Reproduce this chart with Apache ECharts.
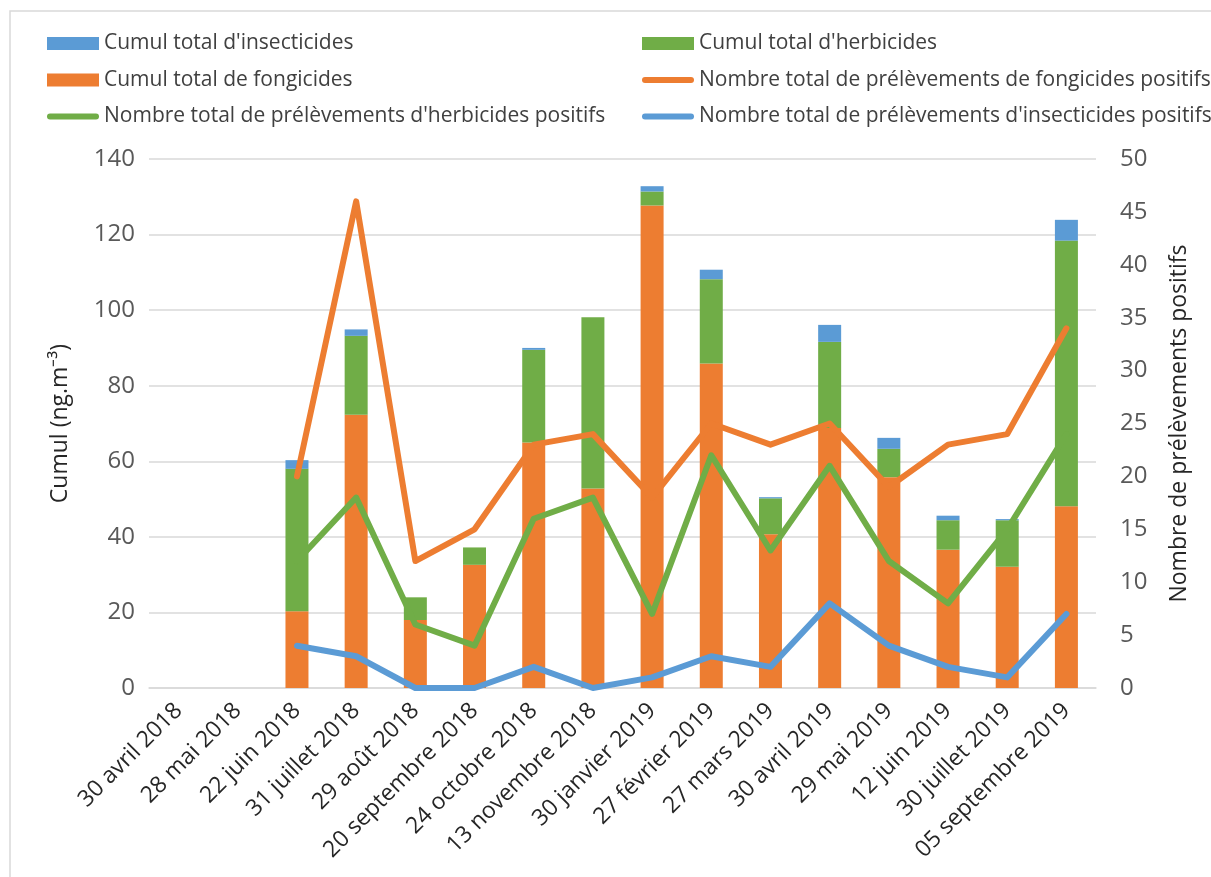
<!DOCTYPE html>
<html>
<head>
<meta charset="utf-8">
<script src="https://cdn.jsdelivr.net/npm/echarts@6/dist/echarts.min.js"></script>
<style>
html,body{margin:0;padding:0;background:#fff;}
#chart{width:1211px;height:877px;}
</style>
</head>
<body>
<div id="chart"></div>
<script>
const categories = ['30 avril 2018','28 mai 2018','22 juin 2018','31 juillet 2018','29 août 2018','20 septembre 2018','24 octobre 2018','13 novembre 2018','30 janvier 2019','27 février 2019','27 mars 2019','30 avril 2019','29 mai 2019','12 juin 2019','30 juillet 2019','05 septembre 2019'];
const cumulFongicides = [null,null,20.3,72.3,18.0,32.6,65.0,52.8,127.7,85.9,40.7,68.8,55.8,36.6,32.1,48.1];
const cumulHerbicides = [null,null,37.7,20.9,6.0,4.6,24.5,45.3,3.7,22.3,9.5,22.8,7.5,7.8,12.3,70.3];
const cumulInsecticides = [null,null,2.3,1.7,0,0,0.5,0,1.4,2.5,0.3,4.5,2.9,1.2,0.3,5.5];
const posFongicides = [null,null,20,46,12,15,23,24,18,25,23,25,19,23,24,34];
const posHerbicides = [null,null,12,18,6,4,16,18,7,22,13,21,12,8,15,24];
const posInsecticides = [null,null,4,3,0,0,2,0,1,3,2,8,4,2,1,7];
const leftTicks = {min:0, max:140, interval:20};
const rightTicks = {min:0, max:50, interval:5};

const N = {
  ins: "Cumul total d'insecticides",
  herb: "Cumul total d'herbicides",
  fong: "Cumul total de fongicides",
  pf: "Nombre total de prélèvements de fongicides positifs",
  ph: "Nombre total de prélèvements d'herbicides positifs",
  pi: "Nombre total de prélèvements d'insecticides positifs"
};
const C = {blue:'#5B9BD5', green:'#70AD47', orange:'#ED7D31'};
const FONT = '"Open Sans", sans-serif';
const LINE_ICON = 'path://M3,0 L49,0 A3,3 0 0 1 49,6 L3,6 A3,3 0 0 1 3,0 Z';

const chart = echarts.init(document.getElementById('chart'), null, {renderer:'canvas'});
const legendCommon = {
  orient:'vertical', itemWidth:52, itemHeight:13, itemGap:15.5,
  textStyle:{fontFamily:FONT, fontSize:21, color:'#404040'},
  selectedMode:false
};
const lineSeries = (name, data, color) => ({
  name, type:'line', yAxisIndex:1, data, symbol:'none', showSymbol:false,
  lineStyle:{width:6, color, cap:'round', join:'round'}, itemStyle:{color}, z:5
});
chart.setOption({
  animation:false,
  backgroundColor:'#fff',
  graphic:[{type:'rect', shape:{x:10, y:11, width:1400, height:1000}, style:{fill:'none', stroke:'#d9d9d9', lineWidth:1.5}, silent:true}],
  legend:[
    Object.assign({left:42, top:28, data:[{name:N.ins, icon:'rect'},{name:N.fong, icon:'rect'},{name:N.ph, icon:LINE_ICON}]}, legendCommon),
    Object.assign({left:637, top:28, data:[{name:N.herb, icon:'rect'},{name:N.pf, icon:LINE_ICON},{name:N.pi, icon:LINE_ICON}]}, legendCommon)
  ],
  grid:{left:149, right:115, top:159, bottom:189, containLabel:false},
  xAxis:{
    type:'category', data:categories, boundaryGap:true,
    axisLine:{lineStyle:{color:'#d9d9d9', width:1.5}},
    axisTick:{show:false},
    axisLabel:{rotate:45, interval:0, margin:19, fontFamily:FONT, fontSize:23, color:'#262626'}
  },
  yAxis:[
    {type:'value', min:leftTicks.min, max:leftTicks.max, interval:leftTicks.interval,
     name:'Cumul (ng.m⁻³)', nameLocation:'middle', nameRotate:90, nameGap:77,
     nameTextStyle:{fontFamily:FONT, fontSize:23, color:'#262626'},
     axisLine:{show:false}, axisTick:{show:false},
     axisLabel:{margin:14, fontFamily:FONT, fontSize:24, color:'#595959'},
     splitLine:{lineStyle:{color:'#d9d9d9', width:1.5}}},
    {type:'value', min:rightTicks.min, max:rightTicks.max, interval:rightTicks.interval, position:'right',
     name:'Nombre de prélèvements positifs', nameLocation:'middle', nameRotate:90, nameGap:72,
     nameTextStyle:{fontFamily:FONT, fontSize:23, color:'#262626'},
     axisLine:{show:false}, axisTick:{show:false},
     axisLabel:{margin:24, fontFamily:FONT, fontSize:24, color:'#595959'},
     splitLine:{show:false}}
  ],
  series:[
    {name:N.fong, type:'bar', stack:'cumul', data:cumulFongicides, barWidth:23, itemStyle:{color:C.orange}},
    {name:N.herb, type:'bar', stack:'cumul', data:cumulHerbicides, barWidth:23, itemStyle:{color:C.green}},
    {name:N.ins, type:'bar', stack:'cumul', data:cumulInsecticides, barWidth:23, itemStyle:{color:C.blue}},
    lineSeries(N.pf, posFongicides, C.orange),
    lineSeries(N.ph, posHerbicides, C.green),
    lineSeries(N.pi, posInsecticides, C.blue)
  ]
});
</script>
</body>
</html>
